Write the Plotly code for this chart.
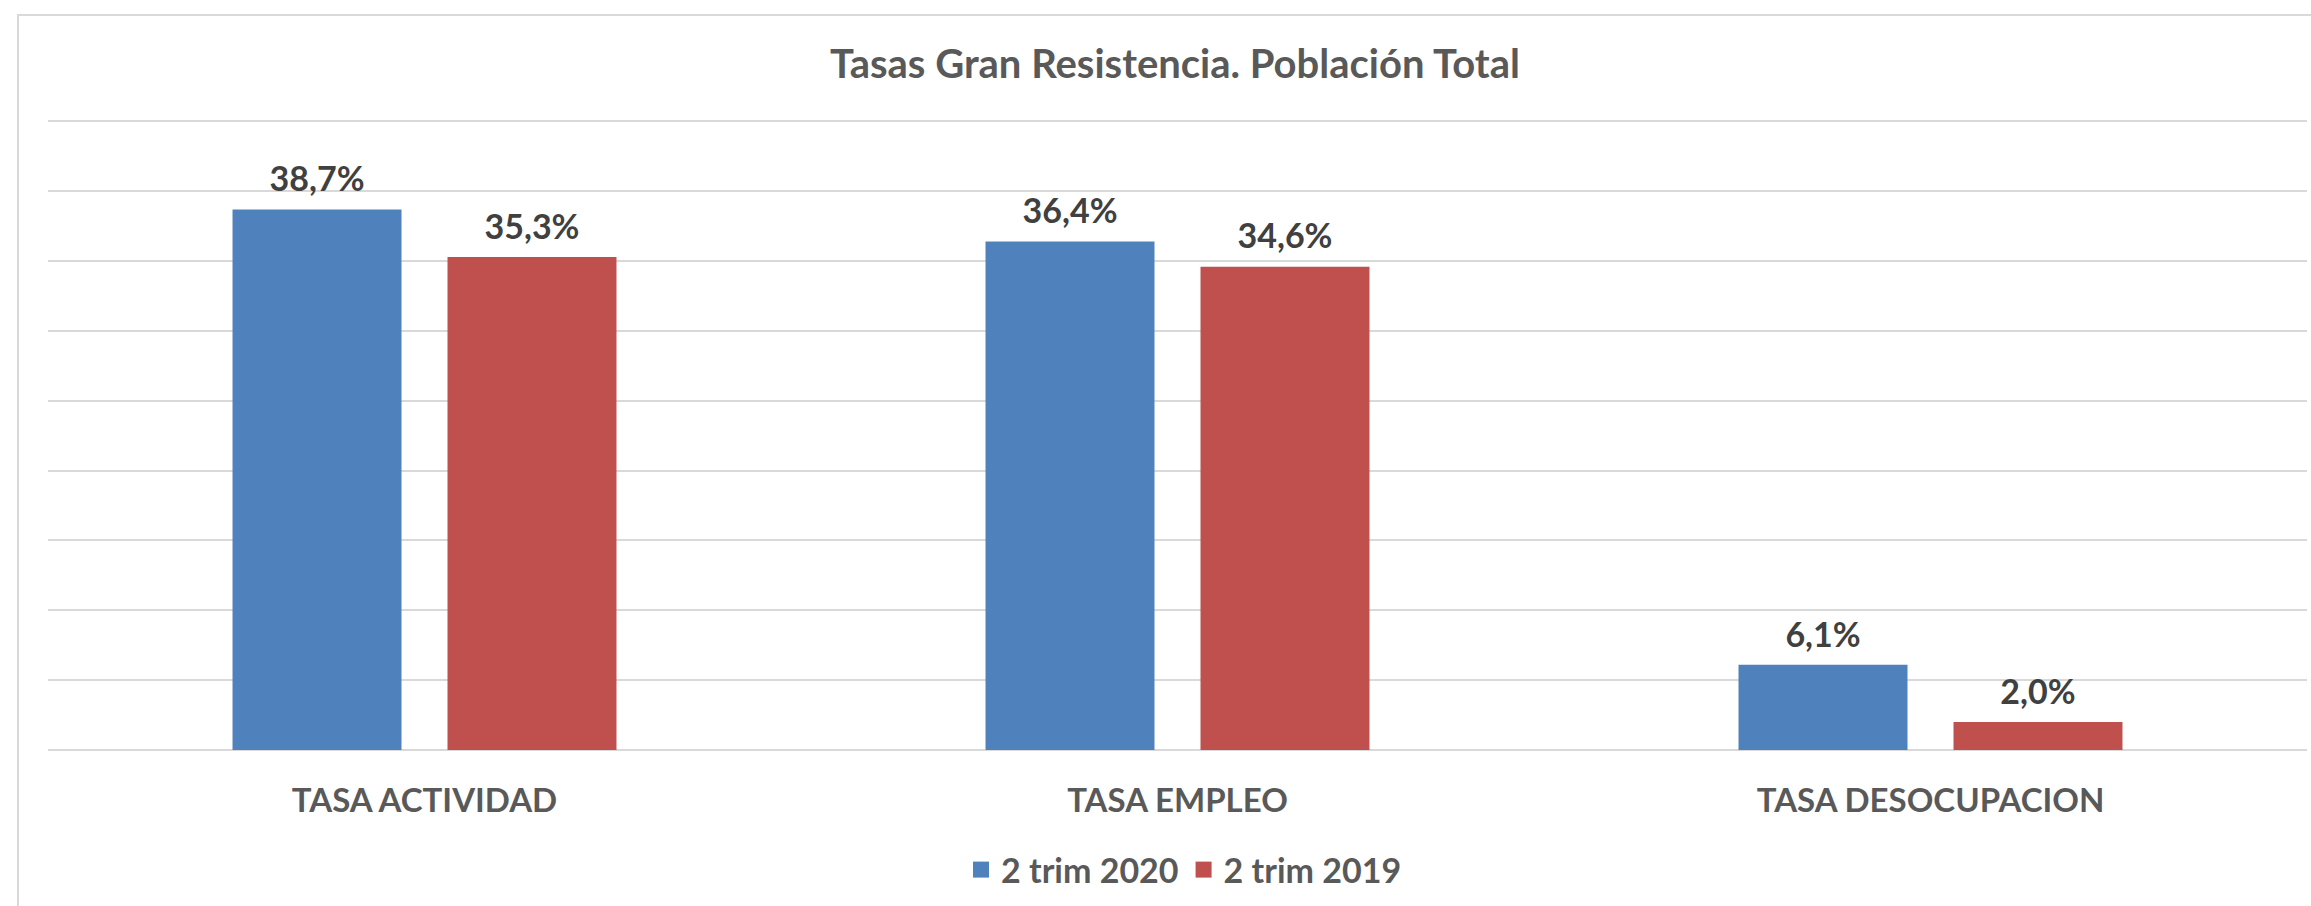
import plotly.graph_objects as go

categories = ["TASA ACTIVIDAD", "TASA EMPLEO", "TASA DESOCUPACION"]
series_names = ["2 trim 2020", "2 trim 2019"]
values_2020 = [38.7, 36.4, 6.1]
values_2019 = [35.3, 34.6, 2.0]
colors = ["#4F81BD", "#C0504D"]

FONT = "Lato, 'Open Sans', sans-serif"

fig = go.Figure()
for i, (name, vals, col) in enumerate(zip(series_names, [values_2020, values_2019], colors)):
    fig.add_trace(go.Bar(
        x=categories, y=vals, name=name, showlegend=False,
        marker=dict(color=col, line=dict(width=0)),
        offsetgroup=str(i), hoverinfo="x+y",
    ))
    # value labels, aligned with the bars through the same offset group
    fig.add_trace(go.Scatter(
        x=categories, y=vals, mode="markers+text", showlegend=False,
        offsetgroup=str(i), hoverinfo="skip",
        marker=dict(size=14, color="rgba(0,0,0,0)"),
        texttemplate="%{y:.1f}%", textposition="top center",
        textfont=dict(family=FONT, size=34, color="#404040", weight="bold"),
        cliponaxis=False,
    ))
    # legend entry
    fig.add_trace(go.Scatter(
        x=[None], y=[None], mode="markers", name=name,
        marker=dict(symbol="square", size=20, color=col),
    ))

W, H = 2311, 906
L, R, T, B = 48, 4, 120, 156
pw = W - L - R
ph = H - T - B

fig.update_layout(
    width=W, height=H,
    margin=dict(l=L, r=R, t=T, b=B, pad=0, autoexpand=False),
    paper_bgcolor="white", plot_bgcolor="white",
    separators=",.",
    barmode="group", bargap=0.429, bargroupgap=0.214,
    scattermode="group", scattergap=0.429,
    title=dict(text="Tasas Gran Resistencia. Población Total",
               x=1175 / W, xanchor="center", y=1 - 64 / H, yanchor="middle",
               font=dict(family=FONT, size=40, color="#595959", weight="bold")),
    legend=dict(orientation="h", x=(1184 - L) / pw, xanchor="center",
                y=(750 - 870) / ph, yanchor="middle",
                font=dict(family=FONT, size=34, color="#595959", weight="bold"),
                bgcolor="rgba(0,0,0,0)"),
    showlegend=True,
)
fig.update_yaxes(range=[0, 45.1], dtick=5, showticklabels=False,
                 showgrid=True, gridcolor="#D9D9D9", gridwidth=2,
                 zeroline=True, zerolinecolor="#D9D9D9", zerolinewidth=2,
                 showline=False, fixedrange=True, automargin=False)
fig.update_xaxes(showline=False, showgrid=False, automargin=False,
                 ticks="outside", ticklen=21, tickcolor="rgba(0,0,0,0)",
                 tickfont=dict(family=FONT, size=33, color="#595959", weight="bold"))

fig.add_shape(type="rect", xref="paper", yref="paper",
              x0=(18 - L) / pw, x1=(W + 20 - L) / pw,
              y0=(750 - (H + 20)) / ph, y1=(750 - 15) / ph,
              line=dict(color="#D9D9D9", width=2), fillcolor="rgba(0,0,0,0)",
              layer="below")

fig.write_html("out.html", config={"displayModeBar": False},
               post_script="document.body.style.margin='0px';document.body.style.overflow='hidden';")
